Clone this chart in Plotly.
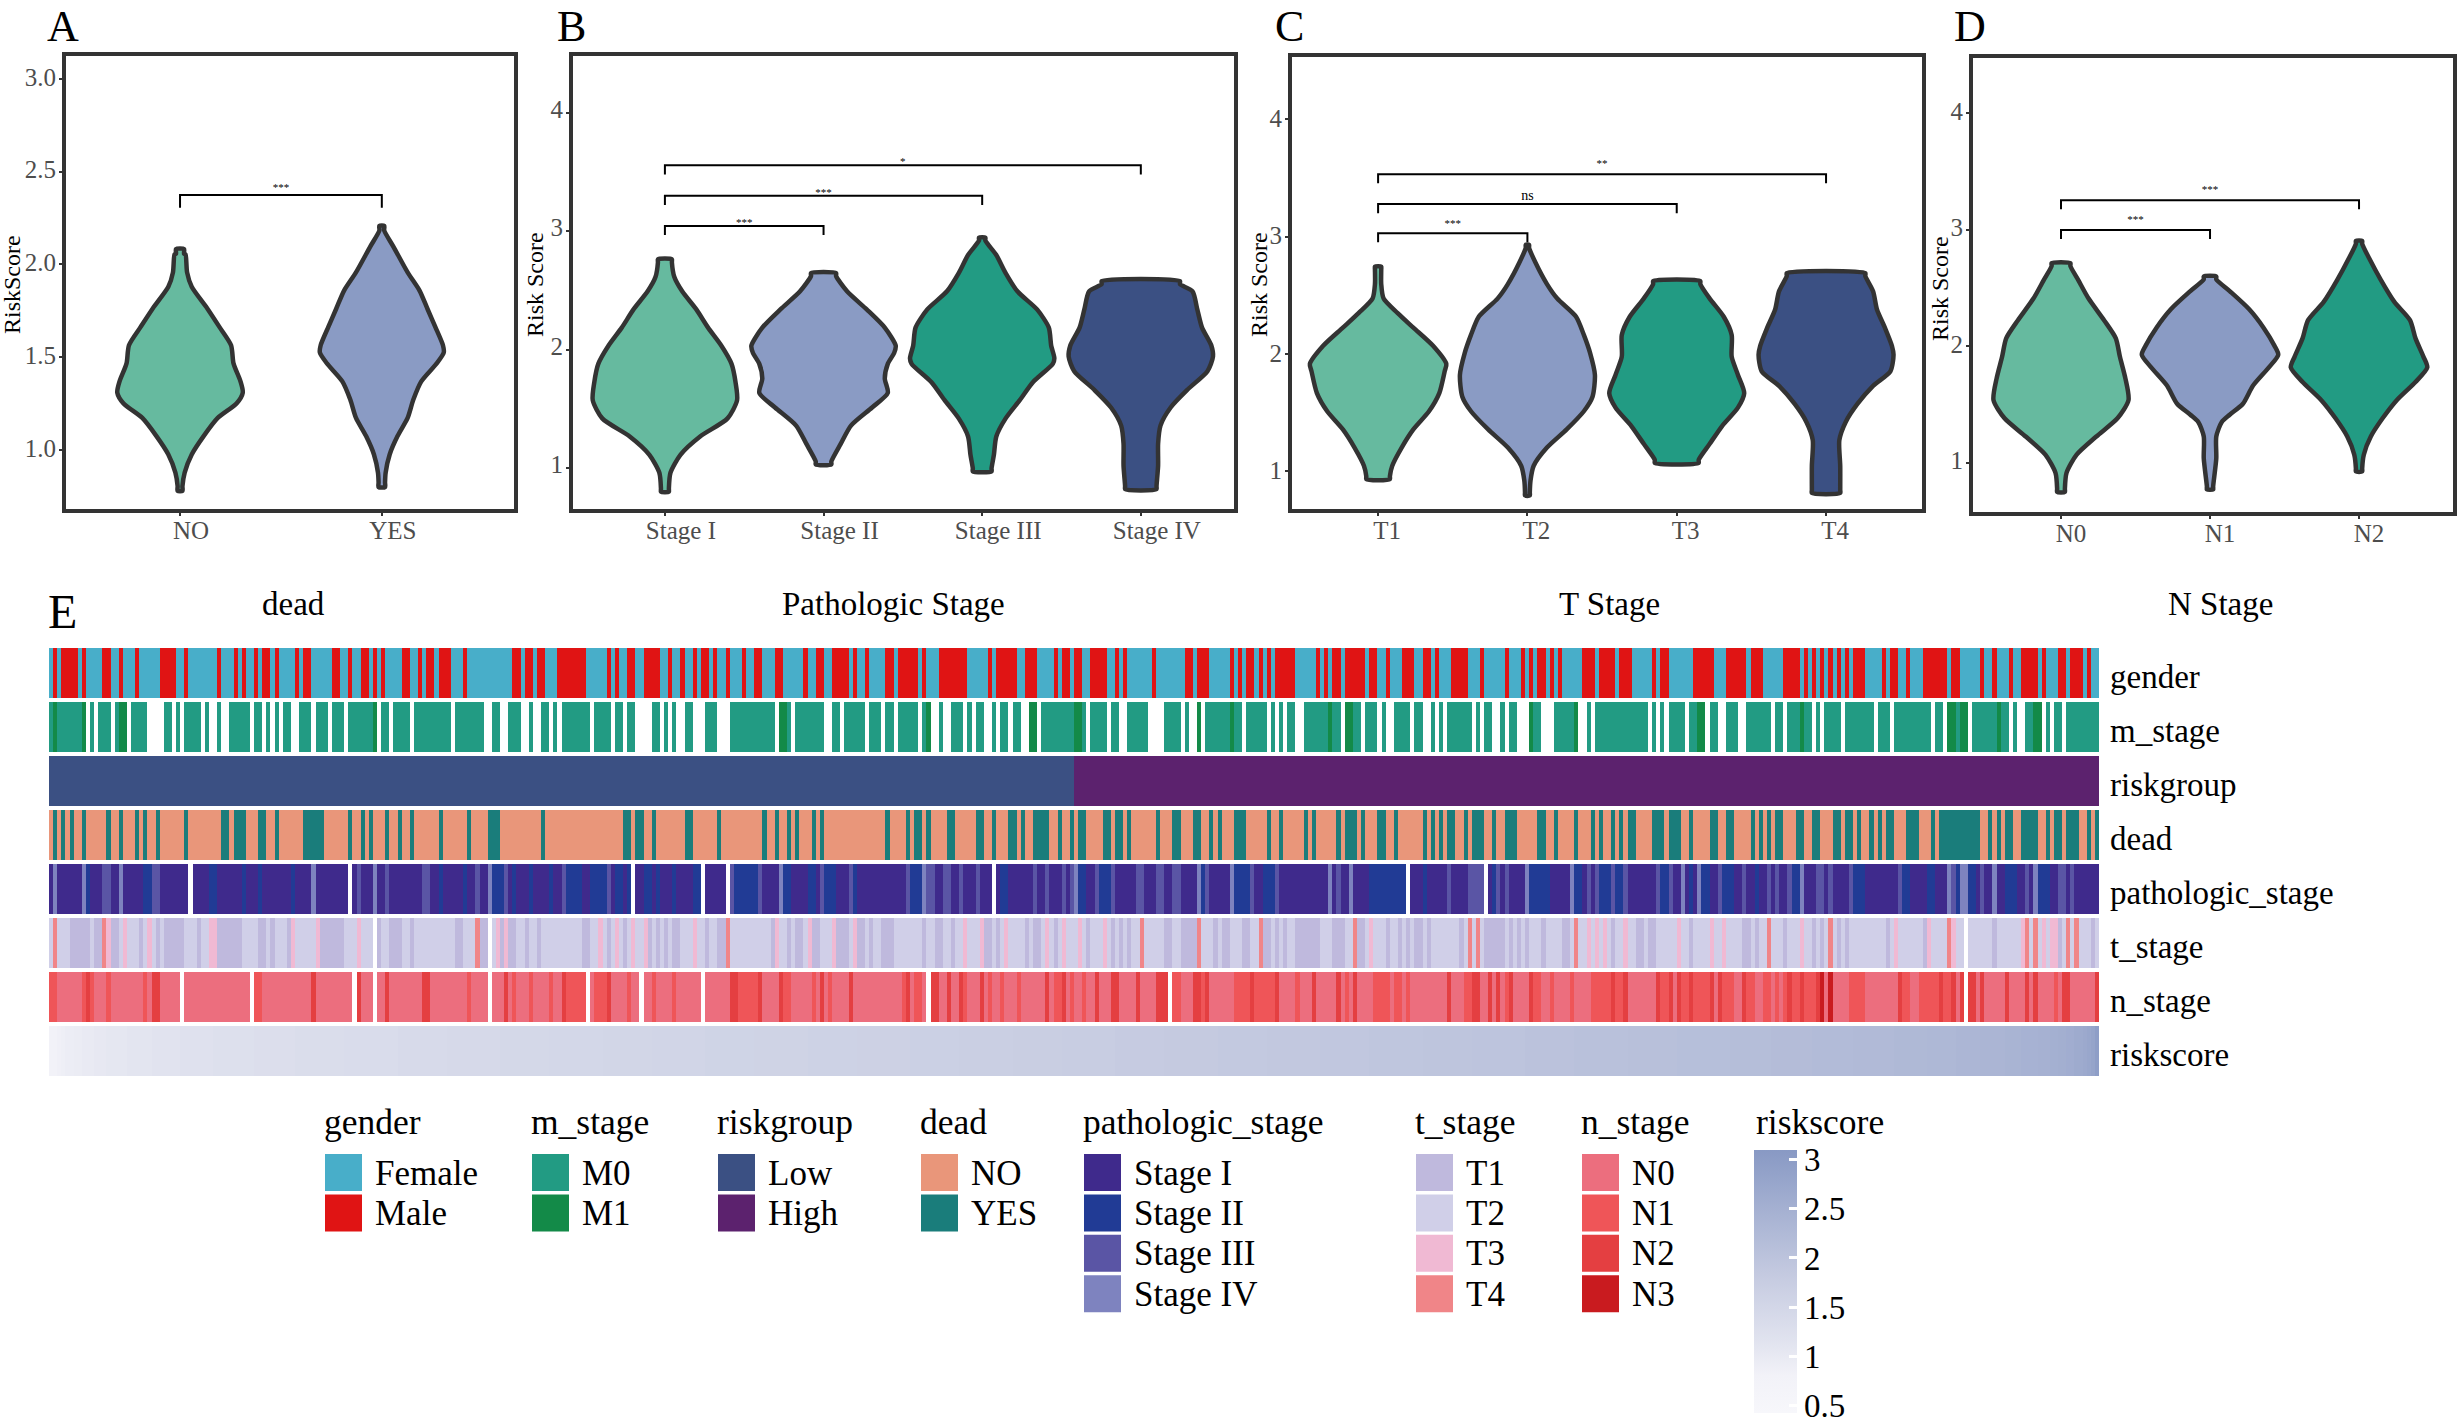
import plotly.graph_objects as go

# ---------- Violin outlines: score level and half-width (in category units) ----------
a_no_y = [2.083,2.055,1.957,1.879,1.761,1.663,1.564,1.466,1.368,1.309,1.25,1.172,1.074,0.975,0.877,0.779]
a_no_w = [.02,.027,.035,.058,.136,.195,.253,.265,.3,.311,.28,.187,.117,.058,.023,.012]
a_yes_y = [2.208,2.095,1.957,1.859,1.761,1.663,1.564,1.525,1.466,1.368,1.27,1.172,1.074,.975,.877,.799]
a_yes_w = [.012,.058,.128,.187,.226,.265,.303,.307,.272,.195,.156,.128,.078,.039,.019,.016]

b_s1_y = [2.764,2.617,2.494,2.341,2.187,2.034,1.881,1.727,1.574,1.42,1.267,1.114,.96,.80]
b_s1_w = [.044,.059,.109,.198,.272,.356,.42,.445,.455,.395,.222,.099,.035,.025]
b_s2_y = [2.648,2.494,2.341,2.187,2.034,1.973,1.881,1.758,1.635,1.512,1.359,1.206,1.03]
b_s2_w = [.079,.148,.272,.386,.455,.445,.405,.386,.405,.306,.173,.109,.049]
b_s3_y = [2.948,2.801,2.648,2.494,2.341,2.187,2.034,1.927,1.881,1.727,1.574,1.42,1.267,1.114,.972]
b_s3_w = [.02,.089,.148,.222,.346,.42,.435,.455,.445,.321,.237,.148,.089,.074,.059]
b_s4_y = [2.58,2.494,2.341,2.187,2.034,1.942,1.819,1.666,1.512,1.359,1.206,1.021,.822]
b_s4_w = [.247,.326,.356,.386,.445,.455,.42,.297,.188,.124,.109,.109,.099]

c_t1_y = [2.745,2.596,2.472,2.348,2.224,2.069,1.914,1.852,1.666,1.511,1.356,1.201,1.046,.932]
c_t1_w = [.021,.021,.037,.131,.236,.368,.457,.446,.41,.341,.236,.158,.095,.079]
c_t2_y = [2.931,2.782,2.596,2.472,2.317,2.162,2.007,1.821,1.635,1.511,1.356,1.201,1.046,.922,.792]
c_t2_w = [.011,.053,.131,.2,.326,.378,.42,.452,.436,.378,.263,.131,.042,.021,.016]
c_t3_y = [2.621,2.472,2.317,2.162,1.976,1.821,1.666,1.542,1.387,1.233,1.071]
c_t3_w = [.158,.221,.315,.368,.368,.41,.452,.41,.305,.221,.147]
c_t4_y = [2.689,2.534,2.379,2.224,2.069,1.992,1.852,1.728,1.573,1.418,1.264,1.046,.814]
c_t4_w = [.263,.315,.341,.394,.441,.452,.431,.315,.21,.131,.089,.095,.095]

d_n0_y = [2.713,2.567,2.411,2.223,2.067,1.911,1.724,1.537,1.381,1.225,1.069,.913,.75]
d_n0_w = [.063,.116,.184,.289,.368,.395,.432,.453,.379,.237,.105,.037,.026]
d_n1_y = [2.598,2.473,2.317,2.161,2.005,1.927,1.818,1.662,1.506,1.412,1.35,1.225,1.037,.772]
d_n1_w = [.042,.132,.263,.358,.432,.458,.395,.289,.221,.132,.079,.042,.042,.021]
d_n2_y = [2.904,2.754,2.567,2.38,2.223,2.067,1.911,1.818,1.693,1.537,1.381,1.225,1.069,.925]
d_n2_w = [.021,.068,.147,.237,.342,.379,.432,.458,.379,.253,.158,.079,.032,.021]

cats_a = ["NO", "YES"]
cats_b = ["Stage I", "Stage II", "Stage III", "Stage IV"]
cats_c = ["T1", "T2", "T3", "T4"]
cats_d = ["N0", "N1", "N2"]

# brackets: from category, to category, bracket level, tip level, label, label level
brackets_a = [(1,2,2.375,2.306,"***",2.41)]
brackets_b = [(1,2,3.047,2.97,"***",3.07),(1,3,3.301,3.224,"***",3.325),(1,4,3.559,3.482,"*",3.585)]
brackets_c = [(1,2,3.03,2.953,"***",3.105),(1,3,3.278,3.2,"ns",3.347),(1,4,3.533,3.455,"**",3.615)]
brackets_d = [(1,2,2.998,2.919,"***",3.08),(1,3,3.253,3.175,"***",3.335)]

# ---------- Annotation tracks: runs of samples [start, end) out of 500 ----------
n_samples = 500
gender_male = [(1,2),(3,7),(8,9),(13,15),(17,18),(21,22),(27,31),(33,34),(41,42),(45,46),(47,48),(50,51),(52,54),(55,56),(60,61),(62,64),(69,71),(73,74),(76,78),(79,80),(81,82),(86,88),(90,91),(92,94),(95,98),(101,102),(113,115),(116,118),(119,121),(124,131),(136,137),(138,139),(141,143),(145,149),(151,152),(154,155),(157,158),(159,161),(162,163),(165,166),(169,170),(172,174),(177,179),(184,185),(187,189),
(191,195),(196,197),(199,200),(204,206),(207,212),(213,214),(217,224),(229,230),(231,236),(238,241),(245,246),(247,249),(250,252),(254,258),(260,261),(262,263),(269,270),(277,279),(280,283),(288,289),(290,291),(292,294),(295,296),(297,298),(299,304),(309,310),(311,312),(313,315),(316,321),(322,324),(326,327),(330,333),(335,337),(338,339),(342,346),(349,350),(355,356),(359,360),(361,362),(363,365),(366,367),(368,369),(374,377),(378,382),(383,386),
(391,392),(393,395),(401,406),(409,414),(415,418),(423,427),(428,429),(430,431),(432,433),(434,435),(436,437),(438,439),(440,443),(447,448),(449,451),(453,454),(457,463),(464,466),(471,472),(474,475),(478,479),(481,485),(486,487),(490,492),(493,496),(497,498)]

m_missing = [(9,10),(11,12),(15,16),(19,20),(24,28),(30,31),(32,33),(37,38),(39,41),(42,44),(49,50),(52,53),(54,55),(56,57),(59,61),(64,65),(68,69),(72,73),(80,81),(83,84),(88,89),(98,99),(106,108),(110,112),(115,117),(118,120),(122,123),(124,125),(132,133),(137,138),(140,141),(143,147),(149,150),(151,152),(153,155),(157,160),(163,166),(177,178),(181,182),
(189,191),(193,194),(199,200),(203,204),(206,207),(212,213),(215,217),(218,220),(223,224),(225,226),(228,230),(231,232),(234,235),(237,239),(241,242),(253,254),(258,259),(261,263),(268,272),(276,277),(278,280),(281,282),(291,292),(297,298),(299,300),(301,302),(304,306),(315,316),(320,321),(324,325),(326,328),(332,333),(335,337),(338,339),(340,341),(347,348),(349,350),(352,354),(355,356),(358,361),(364,367),(373,375),(376,377),
(390,391),(392,393),(394,395),(399,400),(404,405),(407,409),(412,414),(420,421),(423,424),(430,431),(432,433),(437,438),(445,446),(449,450),(459,460),(462,463),(468,469),(478,479),(480,482),(486,487),(488,489),(491,492)]
m_m1 = [(1,2),(8,9),(17,19),(79,80),(178,180),(214,215),(239,241),(250,252),(280,281),(288,289),(312,313),(316,318),(361,362),(372,373),(402,404),(427,428),(463,465),(466,468),(475,476),(484,486)]

risk_low_count = 250

dead_yes = [(1,2),(3,4),(5,6),(8,9),(14,15),(17,18),(21,22),(23,24),(26,27),(33,34),(42,44),(45,48),(51,53),(55,56),(62,67),(73,74),(76,77),(78,79),(82,83),(85,86),(88,89),(95,96),(102,103),(107,110),(120,121),(140,142),(143,145),(147,148),(155,157),(163,164),(174,175),(177,178),(180,181),(182,183),(186,187),
(188,189),(204,205),(209,210),(211,213),(214,215),(219,221),(226,228),(230,231),(234,236),(237,238),(240,244),(246,247),(249,250),(251,253),(257,259),(260,262),(263,264),(270,271),(274,276),(279,281),(283,284),(285,286),(289,292),(297,298),(300,301),(306,307),(308,309),(314,315),(316,319),(320,321),(324,326),(328,329),(335,336),(337,338),(339,340),(341,343),(345,346),(347,350),(352,353),(355,358),(363,365),(367,368),(372,373),(376,377),(378,379),(381,382),(383,384),(385,387),
(391,394),(395,398),(400,401),(405,407),(409,411),(415,416),(417,418),(419,420),(421,423),(426,428),(430,432),(435,437),(438,440),(441,442),(444,445),(446,447),(448,450),(453,456),(459,460),(461,471),(473,474),(475,476),(477,479),(481,485),(487,488),(489,491),(492,495),(497,498),(499,500)]

path_missing = [(34,35),(73,74),(142,143),(159,160),(165,166),(230,231),(331,332),(350,351)]
path_ii = [(9,10),(23,25),(39,41),(47,48),(51,52),(59,60),(95,96),(101,102),(108,111),(113,114),(117,118),(122,123),
(126,130),(132,136),(138,140),(141,142),(145,147),(148,149),(152,153),(157,159),(167,173),(179,181),(185,187),(189,192),(196,197),(210,213),(232,234),(251,253),(256,259),(281,282),(289,293),(296,299),(322,331),(335,336),(352,353),(361,366),(372,374),
(378,381),(382,384),(393,395),(400,401),(403,405),(408,411),(416,417),(425,427),(440,443),(452,454),(458,460),(465,466),(468,470),(477,480),(485,488)]
path_iii = [(13,15),(25,27),(75,76),(82,83),(91,93),(104,105),(111,112),(125,126),(136,137),(166,167),(173,174),(188,189),(195,196),(209,210),(214,216),(218,220),(222,223),(226,227),(240,241),(243,244),(247,248),(249,250),
(255,256),(259,260),(265,267),(270,272),(274,276),(282,283),(293,294),(299,300),(314,315),(341,342),(346,350),(353,354),(355,356),(375,376),(377,378),(381,382),(384,385),(392,393),(395,396),(407,408),(413,414),(419,420),(421,422),(424,425),(431,433),(434,435),(439,440),(451,452),(464,465),(471,472),(482,483),(490,492),(493,494)]
path_iv = [(1,2),(8,9),(17,18),(64,65),(79,80),(107,108),(178,179),(213,214),(250,251),(280,281),(288,289),(312,313),(317,318),(360,361),(371,372),(398,399),(402,403),(427,428),(463,464),(466,468),(474,475),(484,485)]

t_missing = [(79,80),(107,108),(467,468)]
t_t1 = [(5,10),(11,13),(15,17),(22,23),(26,27),(28,33),(36,37),(41,47),(51,53),(54,55),(58,59),(66,72),(80,81),(83,86),(88,89),(99,101),(105,107),(110,111),(112,114),(116,117),(119,120),
(130,132),(136,137),(140,141),(146,147),(148,149),(150,151),(152,154),(160,161),(163,165),(176,177),(180,181),(182,184),(186,188),(192,195),(197,199),(200,201),(203,206),(213,214),(216,218),(220,221),(228,230),(231,232),(238,239),(240,242),(245,246),
(253,254),(259,260),(261,262),(263,264),(272,274),(276,280),(284,285),(286,288),(291,293),(296,298),(299,300),(301,302),(304,310),(313,316),(319,321),(326,327),(329,330),(331,332),(333,335),(336,337),(344,345),(350,355),(356,357),(358,359),(360,361),(364,365),(369,371),
(381,382),(387,389),(390,392),(400,401),(413,415),(416,417),(423,424),(430,431),(432,433),(436,437),(438,439),(448,449),(457,458),(474,475),(490,491),(498,499)]
t_t3 = [(14,15),(18,19),(24,25),(39,41),(59,60),(65,66),(75,76),(109,110),(111,112),(134,135),(138,139),(142,143),(145,146),(157,158),(177,178),(185,186),(191,192),(196,197),(223,224),(227,228),(233,234),(243,244),(247,248),
(251,252),(257,258),(322,323),(375,376),(377,378),(379,380),(384,385),(397,398),(405,406),(408,409),(427,428),(450,451),(458,459),(464,465),(481,482),(486,487),(488,490)]
t_t4 = [(1,2),(13,14),(104,105),(165,166),(266,267),(280,281),(295,296),(318,319),(346,347),(348,349),(372,373),(419,420),(434,435),(463,464),(482,483),(484,485),(492,493),(494,495)]

n_missing = [(32,33),(49,50),(74,75),(79,80),(107,108),(131,132),(144,145),(159,160),(214,215),(273,274),(467,468)]
n_n1 = [(0,2),(8,9),(10,11),(14,15),(23,24),(50,52),(102,103),(113,114),(117,118),(122,123),(126,131),(133,136),(141,142),(147,148),(152,153),(168,173),(179,181),(186,187),(190,191),(208,209),(211,213),(223,224),(229,230),(232,233),(236,237),(245,247),(249,250),
(252,253),(274,276),(281,282),(289,293),(294,299),(304,305),(316,317),(323,327),(328,330),(331,332),(345,347),(355,356),(362,364),(366,367),(371,372),
(376,381),(382,384),(393,395),(398,400),(401,405),(408,411),(414,416),(418,420),(421,422),(423,424),(425,427),(428,431),(439,443),(452,454),(456,460),(460,461),(462,464),(489,490)]
n_n2 = [(9,10),(25,27),(64,65),(75,76),(82,83),(91,93),(111,112),(125,126),(136,137),(166,168),(173,174),(178,179),(188,189),(195,196),(209,210),(215,217),(219,220),(222,223),(227,228),(243,244),(247,248),
(255,256),(259,261),(265,266),(270,273),(279,281),(282,283),(293,294),(299,300),(308,309),(314,315),(318,319),(341,342),(347,349),(351,352),(353,354),(356,357),(361,362),
(381,382),(384,385),(392,393),(395,396),(397,398),(400,401),(405,406),(407,408),(413,414),(424,425),(427,428),(431,432),(451,452),(461,462),(464,465),(466,467),(468,470),(471,472),(477,478),(482,483),(484,485),(491,493),(499,500)]
n_n3 = [(432,433),(434,435)]

# riskscore runs (sorted by sample): end sample, score
risk_ends   = [1,2,3,4,6,8,11,14,19,25,32,40,50,60,72,85,97,110,122,135,147,160,172,185,197,210,222,235,247,260,272,285,297,310,322,335,347,360,372,385,397,410,420,430,440,450,458,465,471,477,481,485,488,490,492,494,496,497,498,499,500]
risk_values = [.78,.81,.85,.88,.92,.95,.98,1.02,1.06,1.1,1.15,1.2,1.24,1.28,1.32,1.35,1.39,1.42,1.45,1.48,1.51,1.54,1.57,1.59,1.62,1.64,1.67,1.7,1.73,1.76,1.79,1.82,1.85,1.87,1.9,1.93,1.96,1.99,2.03,2.06,2.09,2.12,2.15,2.18,2.21,2.24,2.27,2.3,2.34,2.37,2.41,2.44,2.47,2.5,2.54,2.58,2.63,2.68,2.74,2.82,2.98]

track_names = ["gender","m_stage","riskgroup","dead","pathologic_stage","t_stage","n_stage","riskscore"]
section_titles = ["dead","Pathologic Stage","T Stage","N Stage"]
colorbar_ticks = [0.5,1,1.5,2,2.5,3]
colorbar_text = ["0.5","1","1.5","2","2.5","3"]

legend_names = ["gender","m_stage","riskgroup","dead","pathologic_stage","t_stage","n_stage"]
legend_labels = [["Female","Male"],["M0","M1"],["Low","High"],["NO","YES"],
                 ["Stage I","Stage II","Stage III","Stage IV"],["T1","T2","T3","T4"],["N0","N1","N2","N3"]]

# ---------- Styles ----------
W, H = 2460, 1421
FONT = "Liberation Serif"
legend_colors = [["#48AEC9","#E01414"],["#229B83","#138A48"],["#3B5083","#5C226E"],["#E9967A","#1A7D7B"],
                 ["#3F2A8C","#213B95","#5A55A5","#7E83BF"],["#BFB9DD","#D0CFE8","#F0B9D3","#F08588"],
                 ["#EC6E7E","#EF5558","#E43F41","#C91B1F"]]
legend_x = [325,532,718,921,1084,1416,1582]
violin_colors = ["#66BA9F","#8A9BC4","#229B83","#3B5083"]
OUT = "#333333"
INSET = 2  # axis lines are drawn just outside the plot area

def fx(p): return p / W
def fy(p): return 1 - p / H

fig = go.Figure()
annotations, shapes = [], []
layout = {}

panels = [
 dict(idx=1, box=(64,516,54,511), yr=(0.67,3.135), xr=(0.425,2.665), cats=cats_a, shift=11, yshift=-2,
      yt=[1,1.5,2,2.5,3], ytt=["1.0","1.5","2.0","2.5","3.0"],
      v=[(a_no_y,a_no_w),(a_yes_y,a_yes_w)], br=brackets_a,
      letter=("A",45), title=("RiskScore",12,285)),
 dict(idx=2, box=(571,1236,54,511), yr=(0.637,4.5), xr=(0.408,4.6), cats=cats_b, shift=16, yshift=-4,
      yt=[1,2,3,4], ytt=["1","2","3","4"],
      v=[(b_s1_y,b_s1_w),(b_s2_y,b_s2_w),(b_s3_y,b_s3_w),(b_s4_y,b_s4_w)], br=brackets_b,
      letter=("B",555), title=("Risk Score",535,285)),
 dict(idx=3, box=(1290,1924,55,511), yr=(0.66,4.55), xr=(0.41,4.656), cats=cats_c, shift=9, yshift=-1,
      yt=[1,2,3,4], ytt=["1","2","3","4"],
      v=[(c_t1_y,c_t1_w),(c_t2_y,c_t2_w),(c_t3_y,c_t3_w),(c_t4_y,c_t4_w)], br=brackets_c,
      letter=("C",1273), title=("Risk Score",1259,285)),
 dict(idx=4, box=(1971,2455,56,514), yr=(0.56,4.49), xr=(0.396,3.644), cats=cats_d, shift=10, yshift=-2,
      yt=[1,2,3,4], ytt=["1","2","3","4"],
      v=[(d_n0_y,d_n0_w),(d_n1_y,d_n1_w),(d_n2_y,d_n2_w)], br=brackets_d,
      letter=("D",1952), title=("Risk Score",1940,289)),
]

for p in panels:
    i = p["idx"]; x0,x1,y0,y1 = p["box"]
    xa,xb = p["xr"]; ya,yb = p["yr"]
    dxv = (xb-xa)/(x1-x0)*INSET
    dyv = (yb-ya)/(y1-y0)*INSET
    layout[f"xaxis{i}"] = dict(domain=[fx(x0+INSET),fx(x1-INSET)], range=[xa+dxv,xb-dxv], anchor=f"y{i}",
        tickvals=list(range(1,len(p["cats"])+1)), ticktext=p["cats"], ticklabelshift=p["shift"], ticklabelstandoff=-7,
        showline=True, mirror=True, linecolor=OUT, linewidth=4, showgrid=False, zeroline=False,
        ticks="outside", ticklen=3, tickwidth=2, tickcolor=OUT,
        tickfont=dict(family=FONT,size=25,color="#4d4d4d"))
    layout[f"yaxis{i}"] = dict(domain=[fy(y1-INSET),fy(y0+INSET)], range=[ya+dyv,yb-dyv], anchor=f"x{i}",
        tickvals=p["yt"], ticktext=p["ytt"], ticklabelstandoff=-2, ticklabelshift=p["yshift"],
        showline=True, mirror=True, linecolor=OUT, linewidth=4, showgrid=False, zeroline=False,
        ticks="outside", ticklen=3, tickwidth=2, tickcolor=OUT,
        tickfont=dict(family=FONT,size=25,color="#4d4d4d"))
    for k,(ys,ws) in enumerate(p["v"]):
        c = k+1
        # a second point just inside each flat end keeps the trimmed ends square under the spline
        ey = [ys[0]] + [ys[0]-0.025] + list(ys[1:-1]) + [ys[-1]+0.025] + [ys[-1]]
        ew = [ws[0]] + [ws[0]] + list(ws[1:-1]) + [ws[-1]] + [ws[-1]]
        xs_v = [c-w for w in ew] + [c+w for w in reversed(ew)] + [c-ew[0]]
        yy = ey + ey[::-1] + [ey[0]]
        fig.add_trace(go.Scatter(x=xs_v,y=yy,mode="lines",fill="toself",fillcolor=violin_colors[k],
            line=dict(color=OUT,width=4.5,shape="spline",smoothing=0.7),
            xaxis=f"x{i}",yaxis=f"y{i}",showlegend=False,hoverinfo="skip"))
    for a,b,lv,tip,txt,tl in p["br"]:
        fig.add_trace(go.Scatter(x=[a,a,b,b],y=[tip,lv,lv,tip],mode="lines",
            line=dict(color="black",width=2),xaxis=f"x{i}",yaxis=f"y{i}",showlegend=False,hoverinfo="skip"))
        fig.add_trace(go.Scatter(x=[(a+b)/2],y=[tl],mode="text",text=[txt],
            textfont=dict(family=FONT,size=14 if txt=="ns" else 11,color="black"),
            xaxis=f"x{i}",yaxis=f"y{i}",showlegend=False,hoverinfo="skip"))
    annotations.append(dict(text=p["letter"][0],x=fx(p["letter"][1]),y=1,xref="paper",yref="paper",
        xanchor="left",yanchor="top",showarrow=False,font=dict(family=FONT,size=44,color="black")))
    t,tx,ty = p["title"]
    annotations.append(dict(text=t,x=fx(tx),y=fy(ty),xref="paper",yref="paper",textangle=-90,
        xanchor="center",yanchor="middle",showarrow=False,font=dict(family=FONT,size=24,color="black")))

# ---------- Heatmap ----------
codes = {}
colors = []
for grp in legend_colors:
    for c in grp:
        codes[c] = len(colors); colors.append(c)
ncol = len(colors)
scale = []
for j,c in enumerate(colors):
    scale += [[j/ncol,c],[(j+1)/ncol,c]]

def track(base, overlays):
    row = [codes[base] + 0.5] * n_samples
    for runs, col in overlays:
        for s,e in runs:
            for j in range(s,e):
                row[j] = None if col is None else codes[col] + 0.5
    return row

g,m,r,d,ps,ts,ns = legend_colors
rows = [
 track(g[0],[(gender_male,g[1])]),
 track(m[0],[(m_m1,m[1]),(m_missing,None)]),
 track(r[1],[([(0,risk_low_count)],r[0])]),
 track(d[0],[(dead_yes,d[1])]),
 track(ps[0],[(path_ii,ps[1]),(path_iii,ps[2]),(path_iv,ps[3]),(path_missing,None)]),
 track(ts[1],[(t_t1,ts[0]),(t_t3,ts[2]),(t_t4,ts[3]),(t_missing,None)]),
 track(ns[0],[(n_n1,ns[1]),(n_n2,ns[2]),(n_n3,ns[3]),(n_missing,None)]),
]
xs = list(range(n_samples))
fig.add_trace(go.Heatmap(z=rows,x=xs,y=list(range(7)),zmin=0,zmax=ncol,colorscale=scale,showscale=False,
    ygap=4,xaxis="x5",yaxis="y5",hoverinfo="skip"))

risk_row = []
start = 0
for e,v in zip(risk_ends,risk_values):
    risk_row += [v]*(e-start); start = e
zlo, zhi = 0.42, 3.1
def st(v): return (v-zlo)/(zhi-zlo)
fig.add_trace(go.Heatmap(z=[risk_row],x=xs,y=[7],zmin=zlo,zmax=zhi,
    colorscale=[[0,"#F7F7FB"],[st(0.8),"#F2F2F8"],[st(1.1),"#E3E5F0"],[st(1.75),"#C8CDE2"],[1,"#8899C4"]],
    ygap=4,xaxis="x5",yaxis="y5",hoverinfo="skip",
    colorbar=dict(x=fx(1754),xanchor="left",y=fy(1281.5),yanchor="middle",thicknessmode="pixels",thickness=43,
        lenmode="pixels",len=263,xpad=0,ypad=0,outlinewidth=0,ticks="inside",ticklen=8,tickwidth=3,tickcolor="white",
        ticklabeloverflow="allow",
        tickvals=colorbar_ticks,ticktext=colorbar_text,tickfont=dict(family=FONT,size=33,color="black"))))

layout["xaxis5"] = dict(domain=[fx(49),fx(2099)],range=[-0.5,n_samples-0.5],anchor="y5",visible=False)
layout["yaxis5"] = dict(domain=[fy(1078),fy(646)],range=[7.5,-0.5],anchor="x5",side="right",
    tickvals=list(range(8)),ticktext=track_names,showline=False,showgrid=False,zeroline=False,ticks="",
    ticklabelstandoff=10,ticklabelshift=-3,tickfont=dict(family=FONT,size=33,color="black"))

for t,cx in zip(section_titles,[293,893,1610,2220]):
    annotations.append(dict(text=t,x=fx(cx),y=fy(604),xref="paper",yref="paper",xanchor="center",yanchor="middle",
        showarrow=False,font=dict(family=FONT,size=33,color="black")))
annotations.append(dict(text="E",x=fx(46),y=fy(612),xref="paper",yref="paper",xanchor="left",yanchor="middle",
    showarrow=False,font=dict(family=FONT,size=48,color="black")))

# ---------- Legends ----------
for name,labels,cols,lx in zip(legend_names,legend_labels,legend_colors,legend_x):
    annotations.append(dict(text=name,x=fx(lx-3),y=fy(1122),xref="paper",yref="paper",xanchor="left",yanchor="middle",
        showarrow=False,font=dict(family=FONT,size=35.5,color="black")))
    for j,(lab,c) in enumerate(zip(labels,cols)):
        top = 1154 + j*40.4
        shapes.append(dict(type="rect",xref="paper",yref="paper",x0=fx(lx),x1=fx(lx+37),y0=fy(top+37),y1=fy(top),
            fillcolor=c,line=dict(width=0)))
        annotations.append(dict(text=lab,x=fx(lx+48),y=fy(top+19),xref="paper",yref="paper",xanchor="left",yanchor="middle",
            showarrow=False,font=dict(family=FONT,size=35,color="black")))
annotations.append(dict(text="riskscore",x=fx(1754),y=fy(1122),xref="paper",yref="paper",xanchor="left",yanchor="middle",
    showarrow=False,font=dict(family=FONT,size=35.5,color="black")))
for v in colorbar_ticks:
    yy = 1405 - (v-0.5)*98
    shapes.append(dict(type="line",xref="paper",yref="paper",x0=fx(1754),x1=fx(1762),y0=fy(yy),y1=fy(yy),
        line=dict(color="white",width=3),layer="above"))

fig.update_layout(width=W,height=H,margin=dict(l=0,r=0,t=0,b=0),paper_bgcolor="white",plot_bgcolor="white",
    showlegend=False,annotations=annotations,shapes=shapes,**layout)
fig.write_html("out.html",config={"displayModeBar":False},post_script="document.body.style.margin='0';")
